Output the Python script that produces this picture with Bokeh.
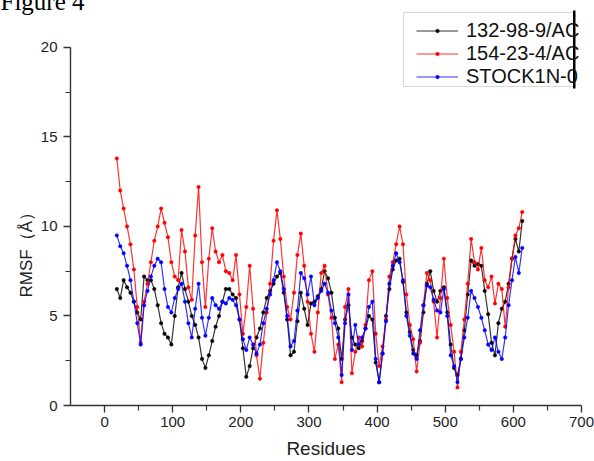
from bokeh.plotting import figure
from bokeh.models import (Range1d, FixedTicker, Legend, LegendItem,
                          BoxAnnotation, ColumnDataSource, Title)
from bokeh.embed import file_html
from bokeh.resources import INLINE

# ---------------- data ----------------
residues = list(range(18, 618, 5))
series_names = ["132-98-9/AC", "154-23-4/AC", "STOCK1N-0"]
series_colors = ["#000000", "#ff0000", "#0000ff"]

rmsf_132 = [
    6.5, 6.0, 7.0, 6.6, 6.3, 5.8, 5.2, 4.8, 7.2, 7.0,
    7.0, 6.5, 5.6, 4.6, 4.0, 3.8, 3.4, 5.0, 6.6, 7.4,
    6.5, 5.8, 5.0, 4.5, 3.8, 2.6, 2.1, 2.8, 3.6, 4.4,
    5.0, 5.8, 6.5, 6.5, 6.2, 6.0, 4.8, 3.2, 1.6, 2.2,
    3.2, 3.8, 4.3, 5.2, 6.0, 6.4, 6.8, 7.2, 7.4, 6.3,
    4.8, 2.8, 3.0, 4.7, 6.3, 5.4, 4.5, 5.7, 5.8, 6.1,
    6.5, 7.5, 7.1, 6.3, 4.9, 4.3, 2.6, 4.8, 5.6, 3.8,
    3.4, 3.2, 3.6, 4.3, 5.0, 4.8, 2.4, 1.3, 2.9, 5.0,
    6.5, 7.6, 8.1, 8.2, 6.9, 5.2, 4.1, 3.1, 2.8, 3.6,
    5.2, 6.8, 7.5, 6.4, 5.8, 6.4, 6.6, 5.2, 3.4, 2.1,
    1.7, 2.6, 4.2, 6.2, 8.1, 7.8, 7.9, 7.8, 6.4, 5.1,
    3.5, 2.8, 4.6, 5.4, 5.8, 6.8, 8.2, 9.3, 8.6, 10.3,
]
rmsf_154 = [
    13.8, 12.0, 11.0, 10.0, 9.0, 7.6, 5.5, 3.5, 5.8, 6.8,
    8.0, 9.2, 10.0, 11.0, 10.2, 9.4, 8.0, 7.2, 7.0, 9.8,
    8.6, 6.6, 5.9, 9.5, 12.2, 8.0, 5.5, 8.2, 9.9, 8.6,
    8.0, 8.4, 7.5, 7.4, 7.0, 8.4, 6.2, 4.0, 5.5, 7.8,
    5.4, 2.8, 1.5, 3.5, 5.2, 6.8, 9.2, 10.9, 9.3, 7.2,
    5.5, 4.8, 6.3, 8.4, 9.6, 7.8, 5.8, 4.0, 3.0, 5.2,
    7.4, 7.8, 6.2, 4.9, 2.6, 3.4, 1.3, 5.5, 6.5, 1.8,
    3.0, 3.8, 3.3, 4.5, 7.0, 7.5, 4.0, 2.2, 3.3, 4.8,
    7.2, 8.0, 9.0, 10.0, 9.0, 6.2, 4.5, 3.7, 1.9, 3.5,
    5.6, 7.4, 7.0, 5.8, 3.8, 6.0, 8.2, 6.0, 4.5, 3.0,
    1.0, 3.0, 4.8, 6.8, 9.3, 8.0, 7.6, 8.8, 7.0, 6.6,
    7.2, 5.7, 6.8, 6.5, 4.4, 6.6, 8.2, 9.5, 9.9, 10.8,
]
rmsf_stock = [
    9.5, 8.9, 8.5, 7.8, 7.0, 5.8, 4.6, 3.4, 5.6, 6.4,
    7.2, 7.8, 8.2, 8.0, 6.5, 5.5, 5.2, 6.0, 6.5, 6.8,
    5.8, 4.6, 3.8, 5.4, 6.8, 4.9, 3.9, 4.9, 6.0, 5.6,
    5.4, 5.8, 5.7, 6.0, 5.9, 5.6, 4.8, 3.7, 3.1, 3.8,
    3.4, 2.9, 3.4, 4.6, 5.4, 6.2, 7.0, 8.0, 7.5, 6.5,
    5.0, 3.3, 3.6, 5.3, 7.4, 7.1, 6.2, 7.2, 5.6, 6.0,
    6.4, 6.8, 6.3, 5.3, 4.6, 3.8, 1.7, 4.6, 6.2, 3.1,
    4.5, 3.4, 3.8, 4.3, 5.5, 5.8, 2.6, 1.3, 2.9, 4.7,
    6.8, 7.8, 8.5, 8.0, 7.0, 5.0, 3.9, 2.9, 2.6, 4.2,
    5.6, 6.7, 6.6, 5.9, 5.3, 5.2, 6.5, 5.0, 2.8, 2.2,
    1.3, 2.6, 3.8, 4.9, 6.4, 6.0, 5.5, 4.9, 4.2, 3.4,
    3.1, 3.8, 3.0, 2.6, 3.8, 5.6, 7.0, 8.3, 7.4, 8.8,
]

x_ticks = [0, 100, 200, 300, 400, 500, 600, 700]
y_ticks = [0, 5, 10, 15, 20]
x_title = "Residues"
y_title = "RMSF（Å）"
fig_caption = "Figure 4"

# ---------------- figure ----------------
FONT = "Liberation Sans"
p = figure(width=594, height=461,
           x_range=Range1d(-50, 700), y_range=Range1d(0, 22.45),
           output_backend="svg", toolbar_location=None,
           min_border_left=70, min_border_right=13,
           min_border_top=3, min_border_bottom=56)
p.outline_line_color = None
p.grid.visible = False
p.background_fill_color = "white"
p.border_fill_color = "white"

# caption at the very top-left, cut by the page edge as in the source
p.add_layout(Title(text=fig_caption, align="left", offset=-70,
                   vertical_align="top", standoff=-26,
                   text_font="Liberation Serif", text_font_size="25px",
                   text_font_style="normal", text_color="#000000"), "above")

xa = p.xaxis[0]
xa.ticker = FixedTicker(ticks=x_ticks,
                        minor_ticks=[t + 50 for t in x_ticks[:-1]])
xa.bounds = (-50, 700)
ya = p.yaxis[0]
ya.ticker = FixedTicker(ticks=y_ticks,
                        minor_ticks=[t + 2.5 for t in y_ticks[:-1]])
ya.bounds = (0, 20)

for ax in (xa, ya):
    ax.axis_line_color = "#333333"
    ax.axis_line_width = 1.4
    ax.major_tick_line_color = "#333333"
    ax.minor_tick_line_color = "#333333"
    ax.major_tick_line_width = 1.3
    ax.minor_tick_line_width = 1.2
    ax.major_tick_in = 0
    ax.major_tick_out = 7
    ax.minor_tick_in = 0
    ax.minor_tick_out = 5
    ax.major_label_text_font = FONT
    ax.major_label_text_font_size = "15px"
    ax.major_label_text_color = "#222222"
xa.major_label_standoff = 4
ya.major_label_standoff = 6
xa.axis_label = x_title
xa.axis_label_text_font = FONT
xa.axis_label_text_font_style = "normal"
xa.axis_label_text_color = "#222222"
xa.axis_label_text_font_size = "19px"
xa.axis_label_standoff = 8

# y title as a left-side title so it can sit lower, as in the source
p.add_layout(Title(text=y_title, align="left", offset=108, standoff=4,
                   text_font=FONT, text_font_size="17px",
                   text_font_style="normal", text_color="#222222"), "left")

items = []
for name, vals, color in zip(series_names, [rmsf_132, rmsf_154, rmsf_stock],
                             series_colors):
    src = ColumnDataSource(dict(x=residues, y=vals))
    ln = p.line("x", "y", source=src, line_color=color, line_width=1.2,
                line_alpha=0.8)
    sc = p.scatter("x", "y", source=src, size=3.5, fill_color=color,
                   line_color=color, line_width=0.5)
    items.append(LegendItem(label=name, renderers=[ln, sc]))

legend = Legend(items=items, location=(340, 311),
                glyph_width=42, glyph_height=9, label_height=20,
                label_standoff=8, spacing=0, padding=6, margin=0,
                border_line_alpha=0, background_fill_alpha=0,
                label_text_font=FONT, label_text_font_size="20px",
                label_text_color="#111111")
p.add_layout(legend)

# legend frame, the dark right edge, and the cut-off beyond it
p.add_layout(BoxAnnotation(left=333, right=503, bottom=319, top=393,
                           left_units="screen", right_units="screen",
                           bottom_units="screen", top_units="screen",
                           fill_alpha=0, line_color="#808080", line_width=1))
p.add_layout(BoxAnnotation(left=505, right=511, bottom=317, top=395,
                           left_units="screen", right_units="screen",
                           bottom_units="screen", top_units="screen",
                           fill_color="#ffffff", fill_alpha=1,
                           line_alpha=0))
p.add_layout(BoxAnnotation(left=502.5, right=505, bottom=317, top=395,
                           left_units="screen", right_units="screen",
                           bottom_units="screen", top_units="screen",
                           fill_color="#000000", fill_alpha=1,
                           line_alpha=0))

open("out.html", "w").write(file_html(p, INLINE))
